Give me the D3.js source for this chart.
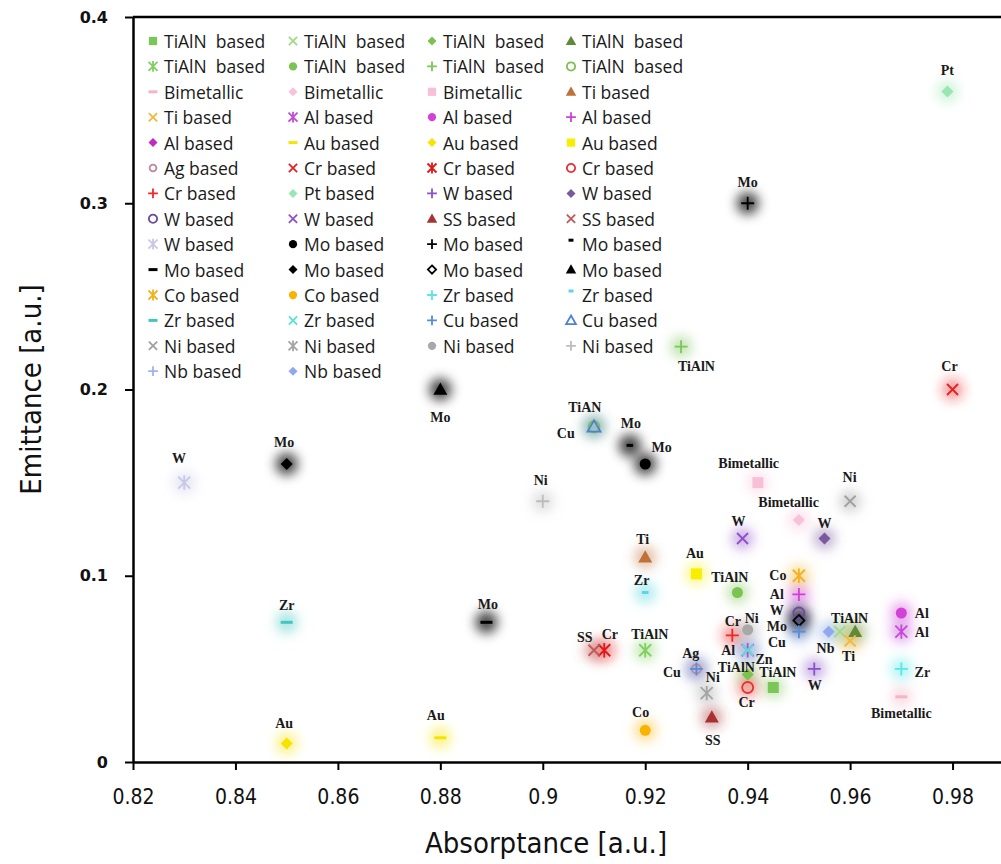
<!DOCTYPE html>
<html>
<head>
<meta charset="utf-8">
<script src="https://cdn.jsdelivr.net/npm/d3@7"></script>
<style>
body { margin: 0; background: #fff; }
svg { display: block; }
</style>
</head>
<body>
<script>
// legend order, row by row (4 columns)
var seriesNames = [
    "TiAlN  based", "TiAlN  based", "TiAlN  based", "TiAlN  based",
    "TiAlN  based", "TiAlN  based", "TiAlN  based", "TiAlN  based",
    "Bimetallic", "Bimetallic", "Bimetallic", "Ti based",
    "Ti based", "Al based", "Al based", "Al based",
    "Al based", "Au based", "Au based", "Au based",
    "Ag based", "Cr based", "Cr based", "Cr based",
    "Cr based", "Pt based", "W based", "W based",
    "W based", "W based", "SS based", "SS based",
    "W based", "Mo based", "Mo based", "Mo based",
    "Mo based", "Mo based", "Mo based", "Mo based",
    "Co based", "Co based", "Zr based", "Zr based",
    "Zr based", "Zr based", "Cu based", "Cu based",
    "Ni based", "Ni based", "Ni based", "Ni based",
    "Nb based", "Nb based"
];

// [absorptance, emittance] for each series
var seriesPoints = [
    [[0.945, 0.04]], [[0.958, 0.07]], [[0.94, 0.047]], [[0.961, 0.07]],
    [[0.92, 0.06]], [[0.938, 0.091]], [[0.927, 0.223]], [[0.91, 0.18]],
    [[0.97, 0.035]], [[0.95, 0.13]], [[0.942, 0.15]], [[0.92, 0.11]],
    [[0.96, 0.065]], [[0.97, 0.07], [0.94, 0.06]], [[0.97, 0.08]], [[0.95, 0.09]],
    [], [[0.88, 0.013]], [[0.85, 0.01]], [[0.93, 0.101]],
    [[0.93, 0.05]], [[0.98, 0.2]], [[0.912, 0.06]], [[0.94, 0.04]],
    [[0.937, 0.068]], [[0.979, 0.36]], [[0.953, 0.05]], [[0.955, 0.12]],
    [[0.95, 0.08]], [[0.939, 0.12]], [[0.933, 0.024]], [[0.91, 0.06]],
    [[0.83, 0.15]], [[0.92, 0.16]], [[0.94, 0.30]], [[0.917, 0.17]],
    [[0.889, 0.075]], [[0.85, 0.16]], [[0.95, 0.076]], [[0.88, 0.2]],
    [[0.95, 0.10]], [[0.92, 0.017]], [[0.97, 0.05]], [[0.92, 0.091]],
    [[0.85, 0.075]], [[0.94, 0.06]], [[0.95, 0.07], [0.93, 0.05]], [[0.91, 0.18]],
    [[0.96, 0.14]], [[0.932, 0.037]], [[0.94, 0.071]], [[0.90, 0.14]],
    [], [[0.9558, 0.07]]
];

var seriesShapes = [
    "square", "x", "diamond", "triangle",
    "asterisk", "circle", "plus", "circleOpen",
    "dash", "diamond", "square", "triangle",
    "x", "asterisk", "circle", "plus",
    "diamond", "dash", "diamond", "square",
    "circleSmall", "x", "asterisk", "circleOpen",
    "plus", "diamond", "plus", "diamond",
    "circleOpen", "x", "triangle", "x",
    "asterisk", "circle", "plus", "dashShort",
    "dash", "diamond", "diamondOpen", "triangle",
    "asterisk", "circle", "plus", "dashShort",
    "dash", "x", "plus", "triangleOpen",
    "x", "asterisk", "circle", "plus",
    "plus", "diamond"
];

var seriesColors = [
    "#7cc657", "#a0d98a", "#7cc24e", "#5e8a3a",
    "#80d060", "#7cc452", "#7cc65a", "#7cc052",
    "#f5b5c8", "#f8c2da", "#f8c0d6", "#c0703a",
    "#f2b83a", "#c24ad6", "#d143d6", "#d040d8",
    "#c02ac0", "#f6e400", "#f8e200", "#f8ee00",
    "#b88aa0", "#e82020", "#e01818", "#e83030",
    "#f02828", "#98e6b2", "#8a52c8", "#7a5a9e",
    "#6a4a9e", "#9050c8", "#a83232", "#c05a5a",
    "#c8c8e6", "#000000", "#000000", "#000000",
    "#000000", "#000000", "#000000", "#000000",
    "#f2b21e", "#f8b400", "#58e6e6", "#58d8e0",
    "#40c8c0", "#58e2d6", "#5a8ad8", "#5080d0",
    "#a0a0a0", "#a4a4a4", "#a8a8a8", "#bcbcbc",
    "#a0b2f2", "#8fa8f0"
];

// point annotations (text, absorptance, emittance)
var labelText = ["Pt", "Mo", "TiAlN", "Cr", "Mo", "TiAN", "Cu", "Mo", "Mo", "W",
    "Mo", "Ni", "Bimetallic", "Ni", "Bimetallic", "W", "W", "Ti", "Au", "Zr",
    "TiAlN", "Co", "Al", "W", "Mo", "Cu", "TiAlN", "Nb", "Ti", "Al",
    "Al", "Zr", "Bimetallic", "W", "TiAlN", "Cr", "TiAlN", "Zn", "Al", "Cr",
    "Ni", "Ag", "Cu", "Ni", "SS", "Co", "TiAlN", "Cr", "SS", "Mo",
    "Zr", "Au", "Au"];
var labelX = [0.979, 0.940, 0.930, 0.9794, 0.880, 0.9082, 0.9045, 0.9172, 0.9232, 0.829,
    0.8495, 0.8996, 0.9402, 0.9599, 0.948, 0.9382, 0.955, 0.9195, 0.9297, 0.9193,
    0.9365, 0.9459, 0.9457, 0.9457, 0.9457, 0.9457, 0.9599, 0.9552, 0.9597, 0.974,
    0.974, 0.9741, 0.970, 0.9531, 0.9459, 0.9398, 0.9378, 0.9432, 0.9362, 0.9371,
    0.9408, 0.9289, 0.9252, 0.9332, 0.9332, 0.9191, 0.9209, 0.9131, 0.9082, 0.8893,
    0.850, 0.8495, 0.8791];
var labelY = [0.3715, 0.3114, 0.2126, 0.2126, 0.1852, 0.1906, 0.1766, 0.1815, 0.1686, 0.1632,
    0.1718, 0.1509, 0.1605, 0.1530, 0.1391, 0.1289, 0.1278, 0.1197, 0.1122, 0.0977,
    0.0988, 0.0999, 0.0897, 0.0811, 0.0725, 0.0639, 0.0773, 0.0612, 0.0569, 0.0800,
    0.0693, 0.0483, 0.0263, 0.0413, 0.0478, 0.0322, 0.0508, 0.0553, 0.0598, 0.0757,
    0.0773, 0.0585, 0.0483, 0.0456, 0.0118, 0.0268, 0.0687, 0.0682, 0.0671, 0.0848,
    0.0838, 0.0209, 0.0247];

var xTicks = [0.82, 0.84, 0.86, 0.88, 0.9, 0.92, 0.94, 0.96, 0.98];
var yTicks = [0, 0.1, 0.2, 0.3, 0.4];

var width = 1001, height = 864;

var x = d3.scaleLinear([0.82, 1.0], [133, 1055]);
var y = d3.scaleLinear([0, 0.4], [762, 17]);

var filledShapes = ["square", "diamond", "triangle", "circle"];
var markerScale = { square: 5.5, diamond: 6, triangle: 7, circle: 5.5, circleOpen: 5.5,
    circleSmall: 4.5, x: 5.5, plus: 6.5, asterisk: 6, dash: 6, dashShort: 6,
    diamondOpen: 5.5, triangleOpen: 6.5 };

function markerPath(shape, s) {
    switch (shape) {
        case "square": return `M${-s},${-s}h${2 * s}v${2 * s}h${-2 * s}Z`;
        case "diamond":
        case "diamondOpen": return `M0,${-s}L${s},0L0,${s}L${-s},0Z`;
        case "triangle":
        case "triangleOpen": return `M0,${-s}L${s},${s * 0.75}L${-s},${s * 0.75}Z`;
        case "circle":
        case "circleOpen":
        case "circleSmall": return `M${s},0A${s},${s} 0 1,1 ${-s},0A${s},${s} 0 1,1 ${s},0Z`;
        case "x": return `M${-s},${-s}L${s},${s}M${-s},${s}L${s},${-s}`;
        case "plus": return `M${-s},0H${s}M0,${-s}V${s}`;
        case "asterisk": return `M${-s},${-s}L${s},${s}M${-s},${s}L${s},${-s}M0,${-s * 1.2}V${s * 1.2}`;
        case "dash": return `M${-s},0H${s}`;
        case "dashShort": return `M${-s * 0.55},0H${s * 0.55}`;
    }
}

function drawMarker(sel, shape, color, k) {
    var s = markerScale[shape] * k;
    var filled = filledShapes.indexOf(shape) >= 0;
    sel.append("path")
        .attr("d", markerPath(shape, s))
        .attr("fill", filled ? color : "none")
        .attr("stroke", filled ? "none" : color)
        .attr("stroke-width", shape.startsWith("dash") ? 3 : 1.8);
}

var svg = d3.select("body")
    .append("svg")
    .attr("width", width)
    .attr("height", height);

var defs = svg.append("defs");
defs.append("filter")
    .attr("id", "glow")
    .attr("x", "-150%").attr("y", "-150%")
    .attr("width", "400%").attr("height", "400%")
    .append("feGaussianBlur")
    .attr("stdDeviation", 6);

// flatten series into point records
var points = [];
seriesPoints.forEach((pts, i) => {
    pts.forEach(p => points.push({ i: i, x: p[0], y: p[1] }));
});

// soft halo behind each marker
svg.append("g")
    .selectAll("circle")
    .data(points)
    .join("circle")
    .attr("cx", d => x(d.x))
    .attr("cy", d => y(d.y))
    .attr("r", 11)
    .attr("fill", d => seriesColors[d.i])
    .attr("fill-opacity", d => seriesColors[d.i] === "#000000" ? 0.75 : 0.45)
    .attr("filter", "url(#glow)");

// axes
var yAxis = svg.append("g")
    .attr("transform", "translate(133,0)")
    .call(d3.axisLeft(y).tickValues(yTicks).tickSize(8).tickSizeOuter(0)
        .tickFormat(d => d === 0 ? "0" : d3.format(".1f")(d)));
yAxis.select(".domain").attr("stroke-width", 2.5);
yAxis.selectAll(".tick line").attr("stroke-width", 2);
yAxis.selectAll(".tick text")
    .attr("x", -25)
    .attr("font-family", "DejaVu Sans")
    .attr("font-weight", "bold")
    .attr("font-size", 16)
    .attr("fill", "#111");

var xAxis = svg.append("g")
    .attr("transform", "translate(0,762)")
    .call(d3.axisBottom(x).tickValues(xTicks).tickSize(8).tickSizeOuter(0)
        .tickFormat(d => String(+d.toFixed(2))));
xAxis.select(".domain").attr("stroke-width", 2.5);
xAxis.selectAll(".tick line").attr("stroke-width", 2);
xAxis.selectAll(".tick text")
    .attr("y", 27)
    .attr("font-family", "Liberation Sans Narrow, DejaVu Sans Condensed, sans-serif")
    .attr("font-size", 21)
    .attr("fill", "#111");

// top frame line
svg.append("line")
    .attr("x1", x(0.82)).attr("x2", width)
    .attr("y1", y(0.4)).attr("y2", y(0.4))
    .attr("stroke", "#000")
    .attr("stroke-width", 2.5);

// axis titles
svg.append("text")
    .attr("transform", `translate(31,${y(0.2)}) rotate(-90)`)
    .attr("text-anchor", "middle")
    .attr("dominant-baseline", "central")
    .attr("font-family", "Liberation Sans Narrow, DejaVu Sans Condensed, sans-serif")
    .attr("font-size", 29)
    .attr("fill", "#111")
    .text("Emittance [a.u.]");

svg.append("text")
    .attr("x", 546)
    .attr("y", 843)
    .attr("text-anchor", "middle")
    .attr("dominant-baseline", "central")
    .attr("font-family", "Liberation Sans Narrow, DejaVu Sans Condensed, sans-serif")
    .attr("font-size", 29)
    .attr("fill", "#111")
    .text("Absorptance [a.u.]");

// legend
var legendCols = [153, 293, 432, 571];
var legendTop = 41, legendStep = 25.4;
var legend = svg.append("g")
    .selectAll("g")
    .data(seriesNames)
    .join("g")
    .attr("transform", (d, i) => `translate(${legendCols[i % 4]},${legendTop + Math.floor(i / 4) * legendStep})`);
legend.each(function (d, i) {
    var g = d3.select(this);
    var shape = seriesShapes[i];
    var mg = g.append("g");
    if (shape === "dashShort") mg.attr("transform", "translate(0,-4)");
    drawMarker(mg, shape, seriesColors[i], 0.75);
    g.append("text")
        .attr("x", 11)
        .attr("dominant-baseline", "central")
        .attr("font-family", "Open Sans, sans-serif")
        .attr("font-size", 17.5)
        .attr("fill", "#1a1a1a")
        .style("white-space", "pre")
        .text(d);
});

// markers
svg.append("g")
    .selectAll("g")
    .data(points)
    .join("g")
    .attr("transform", d => `translate(${x(d.x)},${y(d.y)})`)
    .each(function (d) {
        drawMarker(d3.select(this), seriesShapes[d.i], seriesColors[d.i], 1);
    });

// annotations
svg.append("g")
    .selectAll("text")
    .data(labelText)
    .join("text")
    .attr("x", (d, i) => x(labelX[i]))
    .attr("y", (d, i) => y(labelY[i]))
    .attr("text-anchor", "middle")
    .attr("dominant-baseline", "central")
    .attr("font-family", "Liberation Serif, serif")
    .attr("font-weight", "bold")
    .attr("font-size", 14)
    .attr("fill", "#1a1a1a")
    .text(d => d);
</script>
</body>
</html>
